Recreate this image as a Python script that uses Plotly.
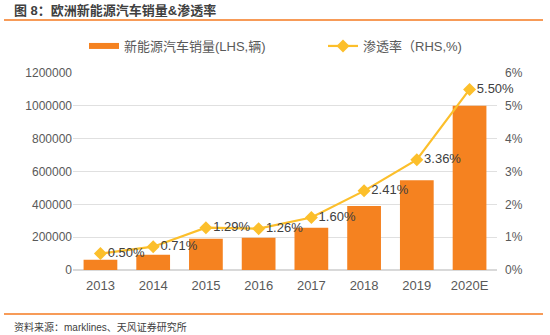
import plotly.graph_objects as go

years = ["2013", "2014", "2015", "2016", "2017", "2018", "2019", "2020E"]
sales = [62000, 93000, 191000, 197000, 258000, 390000, 546000, 1000000]
penetration = [0.50, 0.71, 1.29, 1.26, 1.60, 2.41, 3.36, 5.50]
left_ticks = [0, 200000, 400000, 600000, 800000, 1000000, 1200000]
right_ticks = [0, 1, 2, 3, 4, 5, 6]

FONT = "Liberation Sans, Arial, Noto Sans CJK SC, sans-serif"
BAR = "#F58220"
LINE = "#FCBF2B"
ORANGE = "#F47A20"

PX_W = 424.0
PX_H = 197.0


def px(xp):
    return (xp - 73) / PX_W


def py(yp):
    return (270 - yp) / PX_H


fig = go.Figure()
fig.add_trace(go.Bar(
    x=years, y=sales, name="新能源汽车销量(LHS,辆)", showlegend=False,
    marker=dict(color=BAR, line=dict(width=0)), width=0.64, yaxis="y",
))
# legend swatch for the bars (flat wide rectangle as in the reference)
fig.add_trace(go.Scatter(
    x=[None], y=[None], name="新能源汽车销量(LHS,辆)", mode="lines",
    line=dict(color=BAR, width=6), legend="legend", yaxis="y",
))
fig.add_trace(go.Scatter(
    x=years, y=penetration, name="渗透率（RHS,%)", yaxis="y2",
    mode="lines+markers+text", legend="legend2",
    line=dict(color=LINE, width=2.2),
    marker=dict(symbol="diamond", size=10, color=LINE),
    text=[f"{v:.2f}%" for v in penetration],
    textposition="middle right",
    textfont=dict(size=13, color="#404040", family=FONT),
    cliponaxis=False,
))

legend_common = dict(orientation="h", xanchor="left", yanchor="middle",
                     font=dict(size=13, color="#595959"), itemwidth=30,
                     bgcolor="rgba(0,0,0,0)")

fig.update_layout(
    width=550, height=335,
    margin=dict(l=73, r=53, t=73, b=65),
    paper_bgcolor="white", plot_bgcolor="white",
    font=dict(family=FONT, size=12, color="#595959"),
    showlegend=True,
    legend=dict(x=px(84), y=py(46), **legend_common),
    legend2=dict(x=px(323), y=py(46), **legend_common),
    bargap=0.36,
    xaxis=dict(type="category", showgrid=False, showline=False, ticks="",
               ticklabelstandoff=6,
               tickfont=dict(size=13, color="#595959")),
    yaxis=dict(range=[0, 1200000], tickvals=left_ticks,
               ticktext=[str(v) for v in left_ticks],
               showgrid=True, gridcolor="#E0E0E0", gridwidth=1,
               zeroline=True, zerolinecolor="#D9D9D9", showline=False,
               ticks="", tickfont=dict(size=12, color="#595959")),
    yaxis2=dict(range=[0, 6], tickvals=right_ticks,
                ticktext=[f"{v}%" for v in right_ticks],
                overlaying="y", side="right", showgrid=False, zeroline=False,
                showline=False, ticks="", ticklabelstandoff=7,
                tickfont=dict(size=12, color="#595959")),
    shapes=[
        dict(type="line", xref="paper", yref="paper", x0=px(4), x1=px(543),
             y0=py(20), y1=py(20), line=dict(color=ORANGE, width=1.5)),
        dict(type="line", xref="paper", yref="paper", x0=px(4), x1=px(543),
             y0=py(314), y1=py(314), line=dict(color=ORANGE, width=1.5)),
    ],
    annotations=[
        dict(text="<b>图 8：欧洲新能源汽车销量&渗透率</b>", xref="paper", yref="paper",
             x=px(12), y=py(10), xanchor="left", yanchor="middle",
             showarrow=False, font=dict(size=13, color="#404040", family=FONT)),
        dict(text="资料来源：marklines、天风证券研究所", xref="paper", yref="paper",
             x=px(12), y=py(327), xanchor="left", yanchor="middle",
             showarrow=False, font=dict(size=10, color="#404040", family=FONT)),
    ],
)

fig.write_html("out.html")
